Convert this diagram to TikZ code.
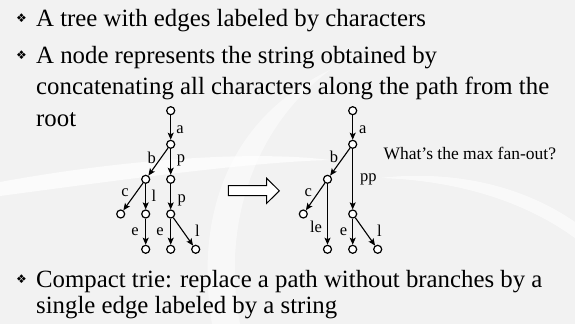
\documentclass[tikz,border=0pt]{standalone}
\usepackage{fontspec}
\setmainfont{Liberation Serif}
\newfontfamily\symfont{DejaVu Sans}
\usetikzlibrary{arrows.meta}

\definecolor{slidebg}{RGB}{242,242,242}

\tikzset{
  vtx/.style={circle, draw, line width=1.2pt, fill=white, minimum size=8pt, inner sep=0pt},
  edge/.style={line width=1.1pt, -{Stealth[length=7pt,width=6pt,inset=1.5pt]}},
  lbl/.style={font=\fontsize{16.5}{18}\selectfont, inner sep=0pt},
  bodytext/.style={anchor=base west, inner sep=0pt, font=\fontsize{24.8}{28}\selectfont},
  bullet/.style={anchor=center, inner sep=0pt, font=\symfont\fontsize{12}{13}\selectfont},
}

\begin{document}
\begin{tikzpicture}[x=1pt, y=-1pt]
  % slide background with soft light curves
  \fill[slidebg] (0,0) rectangle (575,324);
  \useasboundingbox (0,0) rectangle (575,324);
  \fill[white, opacity=0.7] (0,182) .. controls (120,160) and (250,150) .. (330,160)
     .. controls (250,162) and (120,180) .. (0,196) -- cycle;
  \fill[white, opacity=0.6] (380,178) .. controls (450,180) and (520,198) .. (575,238)
     -- (575,222) .. controls (520,184) and (450,170) .. (380,178) -- cycle;
  \fill[white, opacity=0.5] (212,324) .. controls (195,220) and (225,120) .. (330,70)
     .. controls (250,130) and (222,230) .. (240,324) -- cycle;

  % bullet list
  \node[bullet] (b1) at (21.5,18.5) {❖};
  \node[bodytext] (t1) at (36,26.5) {A tree with edges labeled by characters};
  \node[bullet] (b2) at (21.5,55.5) {❖};
  \node[bodytext] (t2) at (36,63.5) {A node represents the string obtained by};
  \node[bodytext] (t3) at (36,94.5) {concatenating all characters along the path from the};
  \node[bodytext] (t4) at (36,126) {root};
  \node[bullet] (b3) at (21.5,279) {❖};
  \node[bodytext] (t5) at (36,287) {Compact trie: replace a path without branches by a};
  \node[bodytext] (t6) at (36,313) {single edge labeled by a string};

  % trie
  \node[vtx] (L0) at (170.7,110.7) {};
  \node[vtx] (L1) at (170.7,144.3) {};
  \node[vtx] (L2b) at (145.7,179.3) {};
  \node[vtx] (L2p) at (170.7,179.3) {};
  \node[vtx] (L3c) at (120.7,214) {};
  \node[vtx] (L3l) at (145.7,214) {};
  \node[vtx] (L3p) at (170.7,214) {};
  \node[vtx] (L4a) at (145.7,249.3) {};
  \node[vtx] (L4b) at (170.7,249.3) {};
  \node[vtx] (L4c) at (195.7,249.3) {};
  \draw[edge] (L0) -- (L1);
  \draw[edge] (L1) -- (L2b);
  \draw[edge] (L1) -- (L2p);
  \draw[edge] (L2b) -- (L3c);
  \draw[edge] (L2b) -- (L3l);
  \draw[edge] (L2p) -- (L3p);
  \draw[edge] (L3l) -- (L4a);
  \draw[edge] (L3p) -- (L4b);
  \draw[edge] (L3p) -- (L4c);
  \node[lbl] (La) at (180,129.3) {a};
  \node[lbl] (Lb) at (151.7,158) {b};
  \node[lbl] (Lp1) at (181,160) {p};
  \node[lbl] (Lc) at (125,193) {c};
  \node[lbl] (Ll1) at (154,196) {l};
  \node[lbl] (Lp2) at (181.7,200) {p};
  \node[lbl] (Le1) at (135,231.7) {e};
  \node[lbl] (Le2) at (160,231.7) {e};
  \node[lbl] (Ll2) at (197.5,230.7) {l};

  % hollow transformation arrow
  \draw[line width=1pt, fill=white]
    (228.3,185.7) -- (266.7,185.7) -- (266.7,178.3) -- (279.3,190.8)
    -- (266.7,203.3) -- (266.7,195.7) -- (228.3,195.7) -- cycle;

  % compact trie
  \node[vtx] (R0) at (352.7,110.7) {};
  \node[vtx] (R1) at (352.7,144.3) {};
  \node[vtx] (R2b) at (327.5,179.3) {};
  \node[vtx] (R3c) at (303.3,214) {};
  \node[vtx] (R3p) at (352.7,214) {};
  \node[vtx] (R4a) at (327.5,249.3) {};
  \node[vtx] (R4b) at (352.7,249.3) {};
  \node[vtx] (R4c) at (377.7,249.3) {};
  \draw[edge] (R0) -- (R1);
  \draw[edge] (R1) -- (R2b);
  \draw[edge] (R1) -- (R3p);
  \draw[edge] (R2b) -- (R3c);
  \draw[edge] (R2b) -- (R4a);
  \draw[edge] (R3p) -- (R4b);
  \draw[edge] (R3p) -- (R4c);
  \node[lbl] (Ra) at (362.7,129.3) {a};
  \node[lbl] (Rb) at (334,157.3) {b};
  \node[lbl] (Rpp) at (368.3,179.3) {pp};
  \node[lbl] (Rc) at (308.3,193) {c};
  \node[lbl] (Rle) at (316,227.3) {le};
  \node[lbl] (Re) at (343.5,231.7) {e};
  \node[lbl] (Rl) at (379.5,230.7) {l};

  \node[anchor=base west, inner sep=0pt, font=\fontsize{17.5}{20}\selectfont] (q)
    at (383.3,159.3) {What’s the max fan-out?};
\end{tikzpicture}
\end{document}
